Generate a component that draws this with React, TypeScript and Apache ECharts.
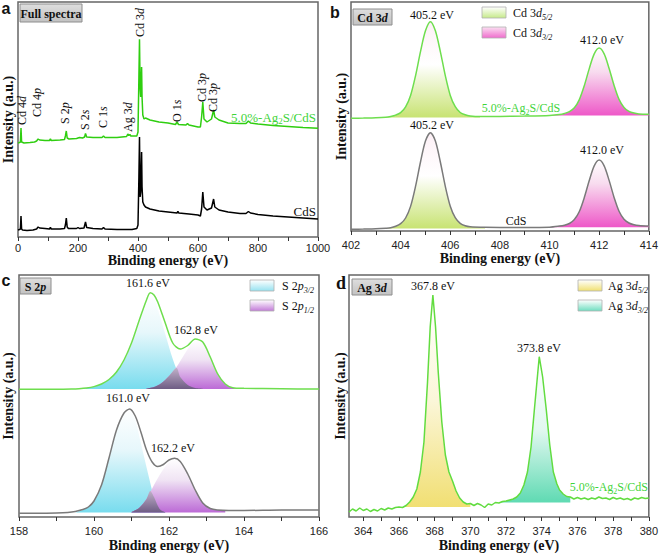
import React, { useEffect, useRef } from "react";
import * as echarts from "echarts";

type P = [number, number];

const SERIF = "'Liberation Serif','Times New Roman',serif";
const SANS = "'Liberation Sans',Arial,sans-serif";

// ---------------- Panel a: survey spectra ----------------
const surveyTicks = [0, 100, 200, 300, 400, 500, 600, 700, 800, 900, 1000];
const surveyTickLabels = [0, 200, 400, 600, 800, 1000];
const surveyAgCdS: P[] = [
  [0, 94], [5, 94.5], [8, 95], [10, 109], [12, 95], [20, 94], [40, 94.5], [55, 95], [62, 96], [67, 98], [72, 97],
  [90, 96.5], [105, 96.5], [108, 98], [111, 96.5], [140, 97], [155, 97.5], [158, 101], [161, 106], [164, 99],
  [170, 98], [195, 98.5], [205, 99.5], [215, 99], [222, 100], [225, 103.5], [229, 100], [250, 99.5], [280, 99.5],
  [285, 101], [290, 99.5], [330, 99.5], [362, 100.5], [366, 103], [369, 101.5], [373, 102.5], [376, 101], [396, 101],
  [400, 105], [403, 160], [405, 197.7], [407, 150], [409, 140], [411, 160], [412, 170], [413.5, 140], [416, 122],
  [420, 118], [425, 119], [440, 117], [470, 115], [500, 114], [525, 112.5], [530, 115], [535, 112.5], [560, 112],
  [565, 113.5], [570, 112], [600, 110], [608, 110], [612, 120], [616, 135], [620, 118], [630, 115], [645, 118],
  [652, 127], [656, 120], [670, 117], [700, 114], [740, 113.5], [760, 113.5], [768, 116], [775, 114], [800, 113],
  [850, 111.5], [900, 110.5], [950, 109.5], [1000, 108.7],
];
const surveyCdS: P[] = [
  [0, 7], [5, 7.5], [8, 8], [10, 21], [12, 8], [15, 7], [30, 6.5], [50, 7], [62, 8], [67, 10], [72, 9], [90, 8.5],
  [105, 8], [108, 9.5], [111, 8], [140, 8], [155, 8.5], [158, 12], [161, 19], [164, 10], [168, 8.5], [195, 8.5],
  [200, 9.5], [205, 8.5], [220, 9], [225, 15], [229, 9.5], [250, 8.5], [280, 8], [285, 9.5], [290, 8], [330, 7.5],
  [380, 7.5], [396, 8.5], [400, 12], [403, 60], [405, 100], [407, 40], [409, 45], [411, 72], [412, 85],
  [413.5, 50], [416, 35], [420, 32], [425, 30], [440, 28], [470, 26], [500, 25], [530, 24], [533, 25.5], [536, 24],
  [570, 23], [600, 22], [608, 21], [612, 28], [616, 45], [620, 30], [630, 27], [645, 29], [652, 38], [656, 30],
  [670, 27], [700, 25], [740, 23.5], [760, 23.5], [768, 25.5], [775, 24], [800, 22.5], [850, 21], [900, 20],
  [950, 19], [1000, 18],
];
const surveyPeakNames = ["Cd 4{i|d}", "Cd 4{i|p}", "S 2{i|p}", "S 2{i|s}", "C 1{i|s}", "Ag 3{i|d}", "Cd 3{i|d}", "O 1{i|s}", "Cd 3{i|p}", "Cd 3{i|p}"];
const surveyPeakPos: P[] = [[22, 125], [37, 117], [65, 124], [85, 130], [103, 128], [128, 132], [140, 37], [177, 122], [202, 102], [213, 112]];

// ---------------- Panel b: Cd 3d ----------------
const cd3dTicks = [402, 403, 404, 405, 406, 407, 408, 409, 410, 411, 412, 413, 414];
const cd3dTickLabels = [402, 404, 406, 408, 410, 412, 414];
const cd3dAgCdS: P[] = [
  [402.0, 112.7], [402.5, 112.9], [403.0, 113.2], [403.4, 113.8], [403.6, 114.6], [403.8, 115.9], [404.0, 118.3],
  [404.2, 124.1], [404.4, 135.5], [404.6, 155.2], [404.8, 179.4], [405.0, 200.2], [405.2, 209.3], [405.4, 200.2],
  [405.6, 179.4], [405.8, 155.3], [406.0, 135.6], [406.2, 124.3], [406.4, 118.5], [406.6, 116.2], [406.8, 115.1],
  [407.2, 114.5], [408.0, 114.6], [409.0, 114.9], [410.0, 115.5], [410.4, 116.4], [410.6, 117.5], [410.8, 119.3],
  [411.0, 123.2], [411.2, 131.4], [411.4, 145.3], [411.6, 162.4], [411.8, 177.1], [412.0, 183.0], [412.2, 177.1],
  [412.4, 162.5], [412.6, 145.5], [412.8, 131.6], [413.0, 123.5], [413.2, 119.6], [413.4, 117.9], [413.6, 117.1],
  [414.0, 116.7],
];
const cd3dCdS: P[] = [
  [402.0, 1.7], [402.5, 1.9], [403.0, 2.2], [403.4, 2.8], [403.6, 3.3], [403.8, 4.7], [404.0, 7.3], [404.2, 13.0],
  [404.4, 24.6], [404.6, 44.6], [404.8, 69.0], [405.0, 90.0], [405.2, 98.3], [405.4, 90.0], [405.6, 69.0],
  [405.8, 44.6], [406.0, 24.8], [406.2, 13.3], [406.4, 7.7], [406.6, 5.3], [406.8, 4.3], [407.4, 3.7], [408.0, 3.6],
  [409.0, 3.6], [410.0, 3.8], [410.4, 4.9], [410.6, 5.8], [410.8, 7.5], [411.0, 11.4], [411.2, 19.5], [411.4, 33.4],
  [411.6, 50.5], [411.8, 65.2], [412.0, 71.0], [412.2, 65.2], [412.4, 50.6], [412.6, 33.6], [412.8, 19.8],
  [413.0, 11.8], [413.2, 8.0], [413.4, 6.3], [413.6, 5.5], [414.0, 5.0],
];
// component ranges [from, to, baseline]
const cd3dAgD52: number[] = [403.4, 407.2, 113.6];
const cd3dAgD32: number[] = [410.0, 414.0, 115.6];
const cd3dCdSD52: number[] = [403.4, 407.4, 2.5];
const cd3dCdSD32: number[] = [410.0, 414.0, 3.8];

// ---------------- Panel c: S 2p ----------------
const s2pTicks = [158, 159, 160, 161, 162, 163, 164, 165, 166];
const s2pTickLabels = [158, 160, 162, 164, 166];
const s2pAgCdS: P[] = [
  [158.0, 127.7], [158.5, 127.8], [159.0, 127.8], [159.4, 128.0], [159.6, 128.3], [159.8, 129.0], [160.0, 130.4],
  [160.2, 133], [160.4, 137.5], [160.6, 145], [160.8, 157], [161.0, 174], [161.2, 196], [161.4, 217], [161.5, 224.3],
  [161.6, 222], [161.7, 215], [161.9, 194], [162.1, 174], [162.3, 168], [162.5, 171.5], [162.7, 178], [162.9, 175],
  [163.1, 160], [163.3, 143], [163.5, 133], [163.7, 129.3], [164.0, 128.7], [165.0, 128.2], [166.0, 128.0],
];
const s2pAgP32: P[] = [
  [159.6, 128.2], [159.8, 129], [160.0, 130.4], [160.2, 133], [160.4, 137.5], [160.6, 145], [160.8, 156], [161.0, 172],
  [161.2, 193], [161.4, 214], [161.5, 222], [161.6, 219], [161.7, 208], [161.9, 183], [162.1, 158], [162.3, 140],
  [162.5, 132], [162.7, 129], [162.9, 128.3],
];
const s2pAgP12: P[] = [
  [161.4, 128.5], [161.6, 130], [161.8, 134], [162.0, 141], [162.2, 150], [162.4, 162], [162.6, 173], [162.75, 177],
  [162.9, 174], [163.1, 160], [163.3, 143], [163.5, 133], [163.7, 129.3], [163.9, 128.3],
];
const s2pAgOverlap: P[] = [
  [161.4, 128.5], [161.6, 130], [161.8, 134], [162.0, 141], [162.2, 149], [162.3, 140], [162.5, 132], [162.7, 129], [162.9, 128.3],
];
const s2pCdS: P[] = [
  [158.0, 3.7], [158.5, 3.8], [159.0, 4.0], [159.3, 4.5], [159.5, 5.5], [159.7, 7.5], [159.85, 10], [160.0, 16],
  [160.2, 32], [160.4, 59], [160.6, 87], [160.8, 104], [160.95, 108], [161.1, 101], [161.25, 85], [161.4, 67],
  [161.55, 55], [161.7, 50.5], [161.85, 52.5], [162.0, 57], [162.15, 58.7], [162.3, 55.5], [162.5, 43], [162.7, 27],
  [162.9, 14], [163.1, 8.5], [163.3, 7], [163.6, 6.5], [164.0, 6.5], [165.0, 7], [166.0, 7],
];
const s2pCdSP32: P[] = [
  [159.5, 4.5], [159.7, 7], [159.85, 10], [160.0, 16], [160.2, 32], [160.4, 59], [160.6, 87], [160.8, 104],
  [160.95, 108], [161.1, 97], [161.25, 74], [161.45, 42], [161.6, 20], [161.75, 8], [161.9, 4.8],
];
const s2pCdSP12: P[] = [
  [161.0, 5], [161.2, 9], [161.4, 18], [161.6, 32], [161.8, 45], [162.0, 55], [162.15, 58.7], [162.3, 55.5],
  [162.5, 43], [162.7, 27], [162.9, 14], [163.1, 8.5], [163.3, 7], [163.5, 6.5],
];
const s2pCdSOverlap: P[] = [[161.0, 5], [161.2, 9], [161.4, 18], [161.5, 26], [161.6, 20], [161.75, 8], [161.9, 4.8]];
const s2pBaselines: number[] = [128, 4.4];

// ---------------- Panel d: Ag 3d ----------------
const ag3dTicks = [364, 365, 366, 367, 368, 369, 370, 371, 372, 373, 374, 375, 376, 377, 378, 379, 380];
const ag3dTickLabels = [364, 366, 368, 370, 372, 374, 376, 378, 380];
const ag3dAgCdS: P[] = [
  [363.2, 5], [363.4, 8], [363.6, 6], [363.8, 9], [364.0, 6.5], [364.2, 8], [364.4, 5.5], [364.6, 7.5], [364.8, 6],
  [365.0, 8.5], [365.2, 7], [365.4, 9], [365.6, 8], [365.8, 9.5], [366.0, 10], [366.2, 9.5], [366.4, 11.5],
  [366.6, 15], [366.8, 20], [367.0, 28], [367.2, 45], [367.4, 75], [367.6, 135], [367.75, 190], [367.9, 222],
  [368.05, 190], [368.2, 145], [368.4, 95], [368.6, 62], [368.8, 45], [369.0, 36], [369.2, 26], [369.4, 19],
  [369.6, 15], [369.8, 13], [370.0, 13.5], [370.2, 11.5], [370.4, 13.5], [370.6, 12], [370.8, 9.5], [371.0, 13],
  [371.2, 12], [371.4, 14.5], [371.6, 14], [371.8, 15.5], [372.0, 16], [372.2, 17], [372.4, 18], [372.6, 20],
  [372.8, 24], [373.0, 32], [373.2, 45], [373.4, 70], [373.6, 110], [373.86, 160.3], [374.05, 140], [374.25, 108],
  [374.45, 72], [374.65, 45], [374.85, 33], [375.0, 27], [375.2, 23], [375.4, 20.5], [375.6, 20], [375.8, 18],
  [376.0, 19.5], [376.2, 18], [376.4, 19], [376.6, 17.5], [376.8, 19], [377.0, 18], [377.2, 20], [377.4, 18.5],
  [377.6, 19], [377.8, 17.5], [378.0, 19.5], [378.2, 18], [378.4, 19], [378.6, 17.5], [378.8, 18.5], [379.0, 17],
  [379.2, 19], [379.4, 18], [379.6, 19.5], [379.8, 18.5], [380.0, 19],
];
const ag3dD52: number[] = [366.0, 370.0, 10];
const ag3dD32: number[] = [371.6, 375.6, 14.5];

// ---------------------------------------------------------
const between = (arr: P[], r: number[]) => arr.filter(([x]) => x >= r[0] && x <= r[1]);
const grad = (stops: [number, string][]) =>
  new echarts.graphic.LinearGradient(0, 0, 0, 1, stops.map(([offset, color]) => ({ offset, color })));

const labelRich = (size: number) => ({
  i: { fontStyle: "italic", fontFamily: SERIF, fontSize: size, lineHeight: size + 4 },
  s: { fontStyle: "italic", fontFamily: SERIF, fontSize: size - 4, lineHeight: size - 4, verticalAlign: "bottom" },
  b: { fontFamily: SERIF, fontSize: size - 4, lineHeight: size - 4, verticalAlign: "bottom" },
});

function text(x: number, y: number, t: string, o: any = {}) {
  const size = o.size || 12;
  return {
    type: "text",
    x,
    y,
    rotation: o.rotation || 0,
    silent: true,
    z: 100,
    style: {
      text: t,
      fill: o.fill || "#111",
      fontFamily: o.family || SERIF,
      fontSize: size,
      fontWeight: o.weight || "normal",
      lineHeight: size + 4,
      align: o.align || "center",
      verticalAlign: o.valign || "middle",
      rich: o.rich || labelRich(size),
    },
  };
}

function titleBox(x: number, y: number, w: number, h: number, t: string) {
  return [
    {
      type: "rect",
      silent: true,
      z: 90,
      shape: { x, y, width: w, height: h },
      style: { fill: grad([[0, "#dedede"], [1, "#c2c2c2"]]), stroke: "#8e8e8e", lineWidth: 1 },
    },
    text(x + w / 2, y + h / 2 + 0.5, t, {
      weight: "bold",
      size: 12,
      rich: { i: { fontStyle: "italic", fontWeight: "bold", fontFamily: SERIF, fontSize: 12 } },
    }),
  ];
}

function swatch(x: number, y: number, top: string, bottom: string) {
  return {
    type: "rect",
    silent: true,
    z: 90,
    shape: { x, y, width: 24, height: 11 },
    style: { fill: grad([[0, top], [1, bottom]]), stroke: "#b0b0b0", lineWidth: 0.8 },
  };
}

export default function App() {
  const ref = useRef<HTMLDivElement>(null);
  useEffect(() => {
    if (!ref.current) return;
    const chart = echarts.init(ref.current, undefined, { renderer: "svg" });

    const grids = [
      { left: 17, top: 2, width: 301, height: 235 },
      { left: 351, top: 2, width: 300, height: 229 },
      { left: 19, top: 275, width: 300, height: 242 },
      { left: 349, top: 275, width: 301, height: 242 },
    ].map((g) => ({ ...g, show: true, borderColor: "#666", borderWidth: 1.5, backgroundColor: "transparent" }));

    const xAxis = (i: number, min: number, max: number, ticks: number[], labels: number[], margin: number, nameGap: number) => ({
      type: "value",
      gridIndex: i,
      min,
      max,
      axisLine: { show: false },
      splitLine: { show: false },
      axisTick: { show: true, inside: false, length: 4, customValues: ticks, lineStyle: { color: "#333", width: 1 } },
      axisLabel: {
        customValues: labels,
        margin,
        fontFamily: SANS,
        fontSize: 11,
        color: "#222",
        formatter: (v: number) => String(v),
      },
      name: "Binding energy (eV)",
      nameLocation: "middle",
      nameGap,
      nameTextStyle: { fontFamily: SERIF, fontWeight: "bold", fontSize: 14, color: "#111", verticalAlign: "middle" },
    });
    const yAxis = (i: number, max: number, nameGap: number) => ({
      type: "value",
      gridIndex: i,
      min: 0,
      max,
      axisLine: { show: false },
      axisTick: { show: false },
      axisLabel: { show: false },
      splitLine: { show: false },
      name: "Intensity (a.u.)",
      nameLocation: "middle",
      nameRotate: 90,
      nameGap,
      nameTextStyle: { fontFamily: SERIF, fontWeight: "bold", fontSize: 14, color: "#111", verticalAlign: "middle" },
    });

    const line = (i: number, data: P[], color: string, width: number, smooth: number | boolean) => ({
      type: "line",
      xAxisIndex: i,
      yAxisIndex: i,
      data,
      symbol: "none",
      showSymbol: false,
      smooth,
      silent: true,
      z: 5,
      lineStyle: { color, width },
    });
    const fill = (i: number, data: P[], origin: number, stops: [number, string][], z = 2, smooth: number | boolean = 0.3) => ({
      type: "line",
      xAxisIndex: i,
      yAxisIndex: i,
      data,
      symbol: "none",
      showSymbol: false,
      smooth,
      silent: true,
      z,
      lineStyle: { width: 0, opacity: 0 },
      areaStyle: { origin, color: grad(stops), opacity: 1 },
    });

    const greenFill: [number, string][] = [[0, "#fdf0f6"], [0.45, "#ffffff"], [1, "#c8e373"]];
    const pinkFill: [number, string][] = [[0, "#ffffff"], [0.35, "#f8dcef"], [1, "#ee58c8"]];
    const cyanFill: [number, string][] = [[0, "#ffffff"], [0.4, "#e6f7fb"], [1, "#78dcee"]];
    const purpleFill: [number, string][] = [[0, "#ffffff"], [0.4, "#f0e4f4"], [1, "#bc6ad6"]];
    const darkFill: [number, string][] = [[0, "#c0b0c8"], [1, "#6e5c84"]];
    const yellowFill: [number, string][] = [[0, "#ffffff"], [0.5, "#fbf6d8"], [1, "#f1df72"]];
    const aquaFill: [number, string][] = [[0, "#ffffff"], [0.5, "#e2f8f0"], [1, "#5edab2"]];

    const green = "#3fd43a";
    const green2 = "#6ede4e";

    const series = [
      // a
      line(0, surveyCdS, "#000000", 1.5, false),
      line(0, surveyAgCdS, "#2fce10", 1.5, false),
      // b
      fill(1, between(cd3dAgCdS, cd3dAgD52), cd3dAgD52[2], greenFill),
      fill(1, between(cd3dAgCdS, cd3dAgD32), cd3dAgD32[2], pinkFill),
      fill(1, between(cd3dCdS, cd3dCdSD52), cd3dCdSD52[2], greenFill),
      fill(1, between(cd3dCdS, cd3dCdSD32), cd3dCdSD32[2], pinkFill),
      line(1, cd3dAgCdS, green2, 1.5, 0.3),
      line(1, cd3dCdS, "#7a7a7a", 1.5, 0.3),
      // c
      fill(2, s2pAgP32, s2pBaselines[0], cyanFill),
      fill(2, s2pAgP12, s2pBaselines[0], purpleFill),
      fill(2, s2pAgOverlap, s2pBaselines[0], darkFill, 3),
      fill(2, s2pCdSP32, s2pBaselines[1], cyanFill),
      fill(2, s2pCdSP12, s2pBaselines[1], purpleFill),
      fill(2, s2pCdSOverlap, s2pBaselines[1], darkFill, 3),
      line(2, s2pAgCdS, green2, 1.5, 0.3),
      line(2, s2pCdS, "#7a7a7a", 1.5, 0.3),
      // d
      fill(3, between(ag3dAgCdS, ag3dD52), ag3dD52[2], yellowFill, 2, false),
      fill(3, between(ag3dAgCdS, ag3dD32), ag3dD32[2], aquaFill, 2, false),
      line(3, ag3dAgCdS, "#62dc40", 1.5, false),
    ];

    const sub = "5.0%-Ag{b|2}S/CdS";
    const graphic: any[] = [
      // panel letters
      text(6, 8, "a", { family: SANS, weight: "bold", size: 16 }),
      text(335, 12, "b", { family: SANS, weight: "bold", size: 16 }),
      text(6, 280, "c", { family: SANS, weight: "bold", size: 16 }),
      text(341, 283, "d", { weight: "bold", size: 18 }),
      // title boxes
      ...titleBox(20, 4, 62, 18, "Full spectra"),
      ...titleBox(353, 9, 39, 16, "Cd 3{i|d}"),
      ...titleBox(20, 278, 31, 16, "S 2{i|p}"),
      ...titleBox(352, 279, 40, 16, "Ag 3{i|d}"),
      // panel a labels
      ...surveyPeakNames.map((n, k) =>
        text(surveyPeakPos[k][0], surveyPeakPos[k][1], n, { rotation: Math.PI / 2, align: "left", size: 12 })
      ),
      text(316, 117, sub, { fill: green, align: "right", size: 13 }),
      text(316, 211, "CdS", { align: "right", size: 13 }),
      // panel b
      text(432, 15, "405.2 eV"),
      text(602, 40, "412.0 eV"),
      text(432, 125, "405.2 eV"),
      text(602, 150, "412.0 eV"),
      text(521, 108, sub, { fill: green }),
      text(516, 221, "CdS"),
      swatch(482, 7, "#ffffff", "#c6ea8a"),
      swatch(482, 27, "#fbe0f2", "#ef6ccd"),
      text(513, 13, "Cd 3{i|d}{s|5/2}", { align: "left" }),
      text(513, 33, "Cd 3{i|d}{s|3/2}", { align: "left" }),
      // panel c
      text(148, 283, "161.6 eV"),
      text(196, 330, "162.8 eV"),
      text(128, 398, "161.0 eV"),
      text(173, 448, "162.2 eV"),
      swatch(250, 280, "#ffffff", "#96e2f0"),
      swatch(250, 300, "#ffffff", "#c27ad8"),
      text(282, 286, "S 2{i|p}{s|3/2}", { align: "left" }),
      text(282, 306, "S 2{i|p}{s|1/2}", { align: "left" }),
      // panel d
      text(433, 286, "367.8 eV"),
      text(539, 348, "373.8 eV"),
      text(648, 487, sub, { fill: green, align: "right" }),
      swatch(578, 280, "#ffffff", "#f0e070"),
      swatch(578, 300, "#ffffff", "#6edec0"),
      text(608, 286, "Ag 3{i|d}{s|5/2}", { align: "left" }),
      text(608, 306, "Ag 3{i|d}{s|3/2}", { align: "left" }),
    ];

    chart.setOption({
      animation: false,
      backgroundColor: "#ffffff",
      grid: grids,
      xAxis: [
        xAxis(0, 0, 1000, surveyTicks, surveyTickLabels, 5, 21),
        xAxis(1, 402, 414, cd3dTicks, cd3dTickLabels, 8, 27),
        xAxis(2, 158, 166, s2pTicks, s2pTickLabels, 8, 28),
        xAxis(3, 363.2, 380, ag3dTicks, ag3dTickLabels, 8, 28),
      ],
      yAxis: [yAxis(0, 235, 10), yAxis(1, 229, 10), yAxis(2, 242, 11), yAxis(3, 242, 9)],
      series,
      graphic,
    });
    return () => chart.dispose();
  }, []);
  return (
    <div
      ref={ref}
      style={{ position: "fixed", left: 0, top: 0, width: 661, height: 554, background: "#fff" }}
    />
  );
}
